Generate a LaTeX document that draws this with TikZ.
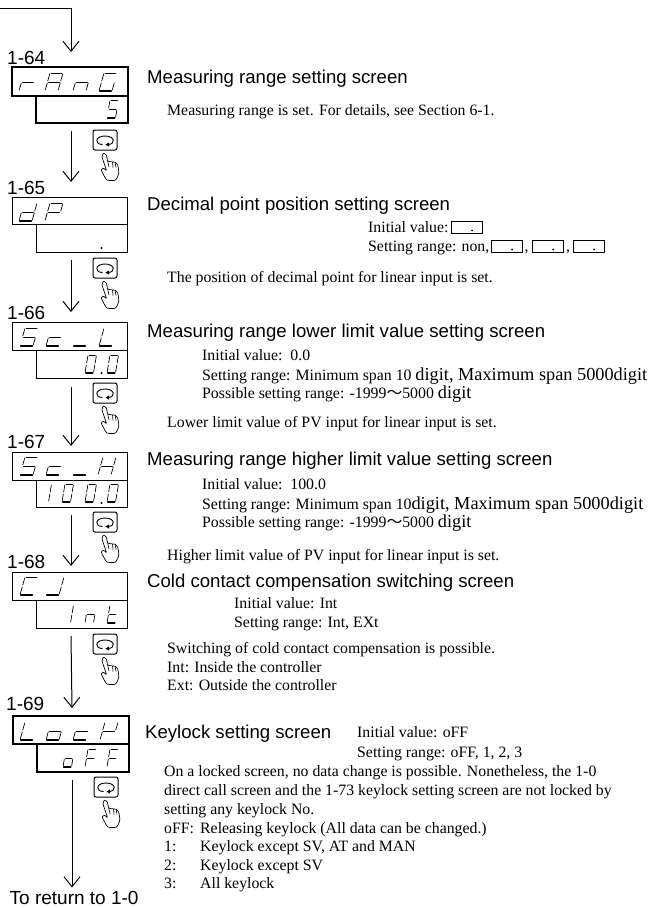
\documentclass[tikz,border=0pt]{standalone}
\usepackage{fontspec}
\setmainfont{Liberation Serif}
\newfontfamily\headf{Liberation Sans}
\newfontfamily\cjkf{Noto Sans CJK JP}
\usetikzlibrary{arrows.meta,calc}
\newcommand\fpx[1]{\fontsize{#1}{#1}\selectfont}
\newcommand\bigtxt{\fpx{18.3}}
\tikzset{
  x=1pt,y=-1pt,
  panel/.style={draw,line width=1pt,inner sep=0,outer sep=0,anchor=north west,minimum width=#1},
  panelH/.style={minimum height=#1},
  thickpanel/.style={line width=1.9pt},
  head/.style={anchor=base west,inner sep=0,font=\headf\fpx{18.6}},
  lab/.style={anchor=base west,inner sep=0,font=\headf\fpx{19}},
  body/.style={anchor=base west,inner sep=0,font=\fpx{15.8}},
  arr/.style={line width=1pt,-{Straight Barb[length=10pt,width=16pt,line width=1pt]}},
  segline/.style={line width=.7pt,shorten >=1pt,shorten <=1pt,line cap=round},
  segbot/.style={line width=1.1pt,shorten >=.6pt,shorten <=.6pt},
  mini/.style={draw,line width=.9pt,inner sep=0,outer sep=0,anchor=north west,minimum width=30.5pt,minimum height=12.5pt},
  keyicon/.pic={
    \draw[line width=1pt,rounded corners=2pt] (0,0) rectangle (24,20);
    \draw[line width=.9pt] (9.5,14.5) .. controls (1.5,14.5) and (1.5,6) .. (12,6) .. controls (22.5,6) and (22.5,14.5) .. (15,14.5);
    \fill (12.5,14.5) -- (16,12.4) -- (16,16.6) -- cycle;
    \draw[line width=.7pt,line join=round,fill=white] plot[smooth,tension=.45] coordinates {(10.7,23.3) (9,26.7) (13.3,40) (10.7,38.3) (8.3,40) (10.7,45) (14,50) (22.3,50) (25.7,43.3) (24.7,35) (22.3,32.3) (17.3,31.7) (14.7,31) (13.3,25) (10.7,23.3)};
    \draw[line width=.6pt] (14.7,31) -- (16,37) (19.5,32) -- (20,37.5) (22.3,33) -- (23,37.5);
  }
}
\newcommand\sega{\draw[segline] (\gs,0) -- (\gw+\gs,0);}
\newcommand\segb{\draw[segline] (\gw+\gs,0) -- (\gw+\gs/2,\gh/2);}
\newcommand\segc{\draw[segline] (\gw+\gs/2,\gh/2) -- (\gw,\gh);}
\newcommand\segd{\draw[segline,segbot] (0,\gh) -- (\gw,\gh);}
\newcommand\sege{\draw[segline] (\gs/2,\gh/2) -- (0,\gh);}
\newcommand\segf{\draw[segline] (\gs,0) -- (\gs/2,\gh/2);}
\newcommand\segg{\draw[segline] (\gs/2,\gh/2) -- (\gw+\gs/2,\gh/2);}
\newcommand\glyph[3]{\begin{scope}[shift={(#1,#2)}]\foreach \k in {#3}{\csname seg\k\endcsname}\end{scope}}
\newcommand\topg[3]{\def\gw{13}\def\gh{18}\def\gs{5}\glyph{#1}{#2}{#3}}
\newcommand\lowg[3]{\def\gw{8.5}\def\gh{18}\def\gs{3}\glyph{#1}{#2}{#3}}
\newcommand\minibox[3]{\node[mini] (#1) at (#2,#3) {}; \fill ($(#1.south east)+(-10,-3)$) circle (1pt);}
\begin{document}
\begin{tikzpicture}
\useasboundingbox (0,0) rectangle (654,908);
% panels
\node[panel=116pt,panelH=29pt,thickpanel] (d64t) at (12,67) {};
\node[panel=92pt,panelH=27pt,thickpanel] (d64b) at (36,96) {};
\node[panel=115pt,panelH=27pt] (d65t) at (12,197) {};
\node[panel=91pt,panelH=28pt] (d65b) at (36,224) {};
\node[panel=115pt,panelH=28pt] (d66t) at (12,322) {};
\node[panel=91pt,panelH=28pt] (d66b) at (36,350) {};
\node[panel=115pt,panelH=28pt] (d67t) at (12,452) {};
\node[panel=91pt,panelH=27pt] (d67b) at (36,480) {};
\node[panel=115pt,panelH=28pt] (d68t) at (12,572) {};
\node[panel=91pt,panelH=28pt] (d68b) at (36,600) {};
\node[panel=116pt,panelH=28pt,thickpanel] (d69t) at (13,716) {};
\node[panel=92pt,panelH=28pt,thickpanel] (d69b) at (37,744) {};
% glyphs 1-64
\topg{19}{73}{e,g}\topg{45}{73}{a,b,c,e,f,g}\topg{73}{73}{c,e,g}\topg{99}{73}{a,c,d,e,f}
\lowg{107}{100}{a,f,g,c,d}
% 1-65
\topg{19}{203}{b,c,d,e,g}\topg{45}{203}{a,b,e,f,g}
\fill (101.5,248) circle (1.1pt);
% 1-66
\topg{20}{328}{a,f,g,c,d}\topg{46}{328}{d,e,g}\topg{73}{328}{d}\topg{99}{328}{d,e,f}
\lowg{85}{355}{a,b,c,d,e,f}\lowg{107}{355}{a,b,c,d,e,f}
\fill (101.5,373) circle (1.2pt);
% 1-67
\topg{20}{457}{a,f,g,c,d}\topg{46}{457}{d,e,g}\topg{73}{457}{d}\topg{98}{457}{b,c,e,f,g}
\lowg{40}{484}{b,c}\lowg{62}{484}{a,b,c,d,e,f}\lowg{85}{484}{a,b,c,d,e,f}\lowg{107}{484}{a,b,c,d,e,f}
\fill (101.5,503) circle (1.2pt);
% 1-68
\topg{20}{577}{a,d,e,f}\topg{46}{577}{b,c,d}
\lowg{62}{605}{b,c}\lowg{85}{605}{c,e,g}\lowg{107}{605}{d,e,f,g}
% 1-69
\topg{20}{722}{d,e,f}\topg{46}{722}{c,d,e,g}\topg{73}{722}{d,e,g}\topg{100}{722}{b,e,f,g}
\lowg{63}{749}{c,d,e,g}\lowg{85}{749}{a,e,f,g}\lowg{107}{749}{a,e,f,g}
% labels
\node[lab] (l64) at (7,64) {1-64};
\node[lab] (l65) at (7,194) {1-65};
\node[lab] (l66) at (7,319) {1-66};
\node[lab] (l67) at (7,448) {1-67};
\node[lab] (l68) at (7,568) {1-68};
\node[lab] (l69) at (6,710) {1-69};
\node[lab] (ret) at (9.5,904) {To return to 1-0};
% connectors
\coordinate (entry) at (0,8);
\coordinate (in64) at ($(d64t.north)+(1,-15)$);
\draw[arr] (entry) -| (in64);
\draw[arr] ($(d64b.south -| d64t.south)+(1,8)$) -- ($(d65t.north)+(1.5,-15)$);
\draw[arr] ($(d65b.south -| d65t.south)+(1.5,8)$) -- ($(d66t.north)+(1.5,-10)$);
\draw[arr] ($(d66b.south -| d66t.south)+(1.5,9)$) -- ($(d67t.north)+(1.5,-6)$);
\draw[arr] ($(d67b.south -| d67t.south)+(1.5,8)$) -- ($(d68t.north)+(1.5,-6)$);
\draw[arr] ($(d68b.south -| d68t.south)+(1.5,8)$) -- ($(d69t.north)+(1,-8)$);
\draw[arr] ($(d69b.south -| d69t.south)+(1,8)$) -- ($(ret.north west)+(62.5,-3)$);
% keys
\pic at (93,130) {keyicon};
\pic at (93,258) {keyicon};
\pic at (93,383) {keyicon};
\pic at (93,512) {keyicon};
\pic at (93,634) {keyicon};
\pic at (94,777) {keyicon};
% headings
\node[head] (h1) at (147,83) {Measuring range setting screen};
\node[head] (h2) at (147,210) {Decimal point position setting screen};
\node[head] (h3) at (147,337) {Measuring range lower limit value setting screen};
\node[head] (h4) at (147,465) {Measuring range higher limit value setting screen};
\node[head] (h5) at (147,587) {Cold contact compensation switching screen};
\node[head] (h6) at (145,738) {Keylock setting screen};
% body
\node[body] (t1) at (167,115) {Measuring range is set. For details, see Section 6-1.};
\node[body] (t2a) at (368,232) {Initial value:};
\minibox{b0}{451.5}{221}
\node[body] (t2b) at (368,251) {Setting range: non,};
\minibox{b1}{491.5}{240}
\node[body] (c1) at (524.5,251) {,};
\minibox{b2}{532.5}{240}
\node[body] (c2) at (566,251) {,};
\minibox{b3}{573.5}{240}
\node[body] (t2c) at (167,282) {The position of decimal point for linear input is set.};
\node[body] (t3a) at (202,360) {Initial value:\ \ 0.0};
\node[body] (t3b) at (202,380) {Setting range: Minimum span 10 {\bigtxt digit, Maximum span 5000digit}};
\node[body] (t3c) at (202,398) {Possible setting range: -1999{\cjkf\fpx{15.8}～}5000 {\bigtxt digit}};
\node[body] (t3d) at (167,427) {Lower limit value of PV input for linear input is set.};
\node[body] (t4a) at (202,489) {Initial value:\ \ 100.0};
\node[body] (t4b) at (202,509) {Setting range: Minimum span 10{\bigtxt digit, Maximum span 5000digit}};
\node[body] (t4c) at (202,527) {Possible setting range: -1999{\cjkf\fpx{15.8}～}5000 {\bigtxt digit}};
\node[body] (t4d) at (167,560) {Higher limit value of PV input for linear input is set.};
\node[body] (t5a) at (234,608) {Initial value: Int};
\node[body] (t5b) at (234,627) {Setting range: Int, EXt};
\node[body] (t5c) at (167,653) {Switching of cold contact compensation is possible.};
\node[body] (t5d) at (167,672) {Int: Inside the controller};
\node[body] (t5e) at (167,690) {Ext: Outside the controller};
\node[body] (t6a) at (357,737) {Initial value: oFF};
\node[body] (t6b) at (357,757) {Setting range: oFF, 1, 2, 3};
\node[body] (t6c) at (164,776) {On a locked screen, no data change is possible. Nonetheless, the 1-0};
\node[body] (t6d) at (164,795) {direct call screen and the 1-73 keylock setting screen are not locked by};
\node[body] (t6e) at (164,814) {setting any keylock No.};
\node[body] (t6f) at (164,833) {oFF:};
\node[body] (t6g) at (200,833) {Releasing keylock (All data can be changed.)};
\node[body] (t6h) at (164,851) {1:};
\node[body] (t6i) at (200,851) {Keylock except SV, AT and MAN};
\node[body] (t6j) at (164,870) {2:};
\node[body] (t6k) at (200,870) {Keylock except SV};
\node[body] (t6l) at (164,888) {3:};
\node[body] (t6m) at (200,888) {All keylock};
\end{tikzpicture}
\end{document}
